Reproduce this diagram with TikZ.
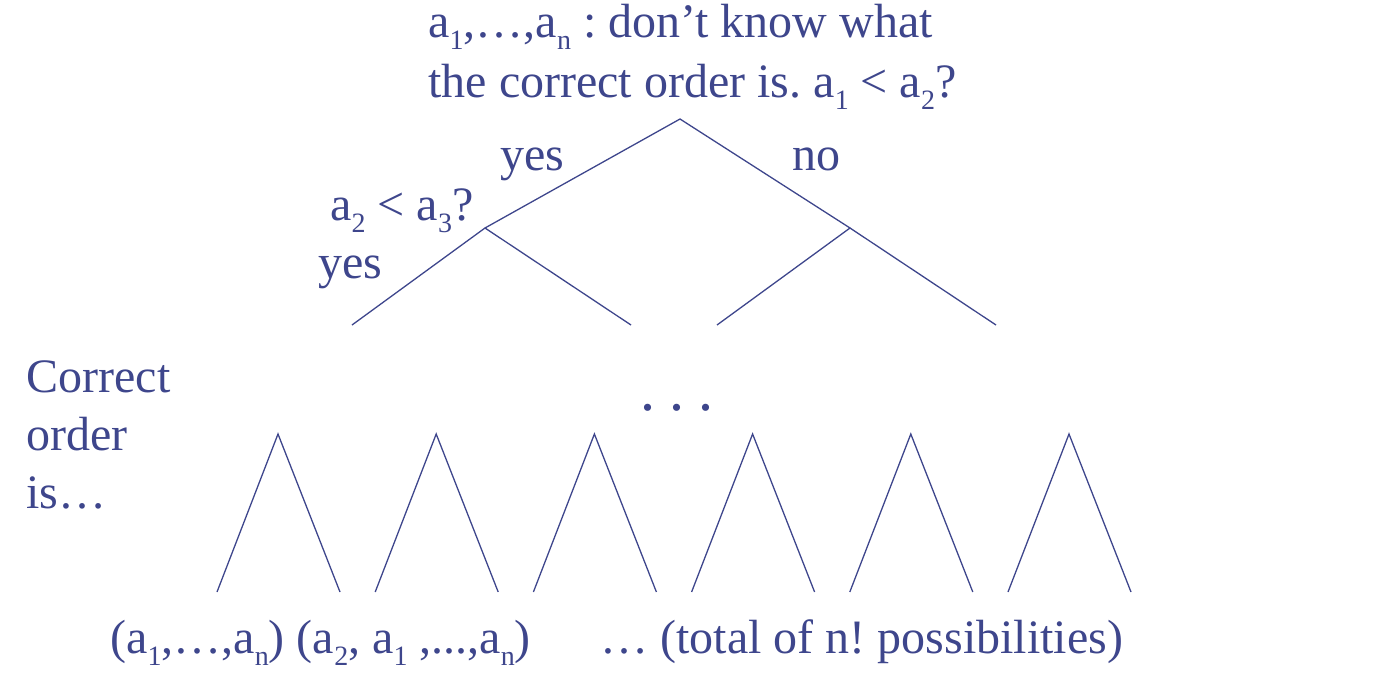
\documentclass[tikz,border=0pt]{standalone}
\usepackage{fontspec}
\setmainfont{Liberation Serif}
\usepackage{tikz}
\usetikzlibrary{positioning, calc}
\definecolor{slideblue}{RGB}{62,70,140}
\newcommand{\lo}[1]{\raisebox{-6pt}{\fontsize{14}{14}\selectfont #1}}
\frenchspacing

\begin{document}
\begin{tikzpicture}[x=0.5pt, y=-0.5pt, edge/.style={draw=slideblue, line width=0.65pt}, lbl/.style={text=slideblue, font=\fontsize{24}{29}\selectfont, inner sep=0pt, anchor=base west}]
\useasboundingbox (0,0) rectangle (1382,676);
% decision tree top
\coordinate (root) at (680,119);
\coordinate (yesnode) at (485,228);
\coordinate (nonode) at (850,228);
\coordinate (yl) at (352,325);
\coordinate (yr) at (631,325);
\coordinate (nl) at (717,325);
\coordinate (nr) at (996,325);
\draw[edge] (yesnode) -- (root) -- (nonode);
\draw[edge] (yl) -- (yesnode) -- (yr);
\draw[edge] (nl) -- (nonode) -- (nr);
% labels
\node[lbl] (q1a) at (428,37) {a\lo{1},…,a\lo{n} : don’t know what};
\node[lbl] (q1b) at (428,97) {the correct order is. a\lo{1} < a\lo{2}?};
\node[lbl] (yes1) at (500,170) {yes};
\node[lbl] (no1) at (792,170) {no};
\node[lbl] (q2) at (330,220) {a\lo{2} < a\lo{3}?};
\node[lbl] (yes2) at (318,278) {yes};
\node[lbl, anchor=center, font=\fontsize{30}{30}\selectfont] (gap) at (677,408) {.\hspace{7pt}.\hspace{7pt}.};
\node[lbl] (corr1) at (26,392) {Correct};
\node[lbl] (corr2) at (26,450) {order};
\node[lbl] (corr3) at (26,508) {is…};
% leaves
\foreach \i in {0,...,5} {
  \coordinate (top\i) at ({278+158.2*\i},434);
  \draw[edge] ($(top\i)+(-61,158)$) -- (top\i) -- ($(top\i)+(62,158)$);
}
\node[lbl] (perm) at (110,653) {(a\lo{1},…,a\lo{n}) (a\lo{2}, a\lo{1} ,...,a\lo{n})};
\node[lbl] (total) at (600,653) {… (total of n! possibilities)};
\end{tikzpicture}
\end{document}
